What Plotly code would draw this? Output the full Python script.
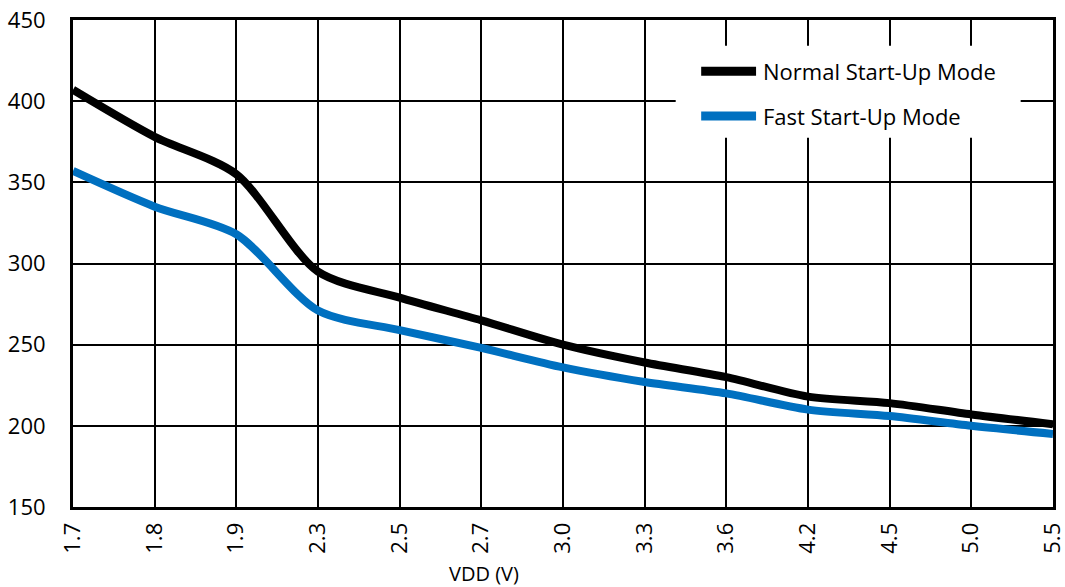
import plotly.graph_objects as go

# VDD categories (V)
vdd = ["1.7", "1.8", "1.9", "2.3", "2.5", "2.7", "3.0", "3.3", "3.6", "4.2", "4.5", "5.0", "5.5"]

# start-up time values
normal_mode = [407, 378, 355, 295, 279, 265, 250, 239, 230, 218, 214, 207, 201]
fast_mode = [357, 335, 318, 271, 259, 248, 236, 227, 220, 210, 206, 200, 195]

y_ticks = [150, 200, 250, 300, 350, 400, 450]

series = [
    ("Normal Start-Up Mode", normal_mode, "#000000"),
    ("Fast Start-Up Mode", fast_mode, "#0070C0"),
]

font_name = "Open Sans"

fig = go.Figure()
for name, vals, color in series:
    fig.add_trace(go.Scatter(
        x=vdd, y=vals, mode="lines", name=name, showlegend=False,
        line=dict(color=color, width=8, shape="spline", smoothing=0.8),
    ))

# hand-built legend: white box covering the grid, a line sample and a label per series
shapes = [dict(type="rect", xref="paper", yref="paper", x0=0.615, x1=0.967, y0=0.758, y1=0.947,
               fillcolor="white", line=dict(width=0), layer="above")]
annotations = []
for i, (name, vals, color) in enumerate(series):
    yy = 0.895 - i * 0.092
    shapes.append(dict(type="line", xref="paper", yref="paper", x0=0.641, x1=0.697, y0=yy, y1=yy,
                       line=dict(color=color, width=9), layer="above"))
    annotations.append(dict(text=name, x=0.702, y=yy, xref="paper", yref="paper",
                            xanchor="left", yanchor="middle", showarrow=False, font=dict(size=22)))

annotations.append(dict(text="VDD (V)", x=0.419, y=-0.137, xref="paper", yref="paper",
                        showarrow=False, font=dict(size=20), yanchor="middle"))

fig.update_layout(
    width=1065, height=587,
    margin=dict(l=73, r=12, t=20, b=80, autoexpand=False),
    paper_bgcolor="white", plot_bgcolor="white",
    font=dict(family=font_name, size=20, color="black"),
    shapes=shapes,
    annotations=annotations,
)

fig.update_xaxes(
    type="category", tickangle=-90, automargin=False,
    showgrid=True, gridcolor="black", gridwidth=2,
    showline=True, linecolor="black", linewidth=3, mirror=True,
    ticks="", tickfont=dict(size=22), range=[0, len(vdd) - 1],
    ticklabelstandoff=4,
)
fig.update_yaxes(
    range=[150, 450], tickvals=y_ticks, automargin=False,
    showgrid=True, gridcolor="black", gridwidth=2,
    showline=True, linecolor="black", linewidth=3, mirror=True,
    ticks="", tickfont=dict(size=22), zeroline=False,
    ticklabelstandoff=20,
)

# drop the default body margin so the figure fills the window exactly
fig.write_html(
    "out.html",
    config={"displayModeBar": False},
    post_script="document.body.style.margin='0';document.body.style.overflow='hidden';",
)
